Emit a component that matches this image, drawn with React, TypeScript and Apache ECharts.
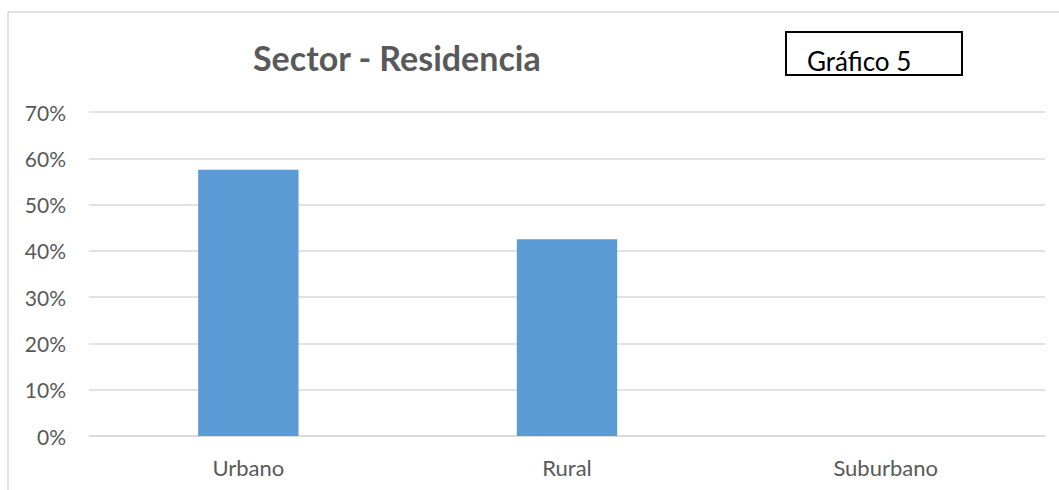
import React, { useEffect, useRef } from "react";
import * as echarts from "echarts";

const categories = ["Urbano", "Rural", "Suburbano"];
const values = [0.575, 0.425, 0];
const titleText = "Sector - Residencia";
const boxText = "Gráfico 5";

export default function App() {
  const ref = useRef<HTMLDivElement>(null);
  useEffect(() => {
    if (!ref.current) return;
    const chart = echarts.init(ref.current, undefined, { renderer: "svg" });
    const font = "Lato, 'Open Sans', sans-serif";
    chart.setOption({
      animation: false,
      backgroundColor: "#ffffff",
      title: {
        text: titleText,
        left: 248,
        top: 35,
        textStyle: { fontFamily: font, fontSize: 34, fontWeight: "bold", color: "#595959" },
      },
      grid: { left: 89, right: 14, top: 112, bottom: 54, containLabel: false },
      xAxis: {
        type: "category",
        data: categories,
        axisLine: { show: true, lineStyle: { color: "#d9d9d9", width: 1.5 } },
        axisTick: { show: false },
        axisLabel: { fontFamily: font, fontSize: 22, color: "#595959", margin: 20 },
      },
      yAxis: {
        type: "value",
        min: 0,
        max: 0.7,
        interval: 0.1,
        axisLine: { show: false },
        axisTick: { show: false },
        splitLine: { lineStyle: { color: "#d9d9d9", width: 1.5 } },
        axisLabel: {
          fontFamily: font,
          fontSize: 21,
          color: "#595959",
          margin: 23,
          formatter: (v: number) => Math.round(v * 100) + "%",
        },
      },
      series: [
        {
          type: "bar",
          data: values,
          barWidth: "31.5%",
          itemStyle: { color: "#5b9bd5" },
        },
      ],
      graphic: [
        {
          type: "rect",
          shape: { x: 8, y: 12, width: 1200, height: 600 },
          style: { fill: "none", stroke: "#d9d9d9", lineWidth: 1.5 },
          silent: true,
          z: 100,
        },
        {
          type: "rect",
          shape: { x: 786, y: 32, width: 176, height: 43 },
          style: { fill: "#ffffff", stroke: "#000000", lineWidth: 2 },
          z: 100,
        },
        {
          type: "text",
          x: 807,
          y: 61,
          style: {
            text: boxText,
            fontFamily: font,
            fontSize: 26,
            fill: "#000000",
            verticalAlign: "middle",
          },
          z: 101,
        },
      ],
    });
    return () => chart.dispose();
  }, []);
  return (
    <div
      ref={ref}
      style={{ position: "fixed", left: 0, top: 0, width: 1059, height: 490 }}
    />
  );
}
